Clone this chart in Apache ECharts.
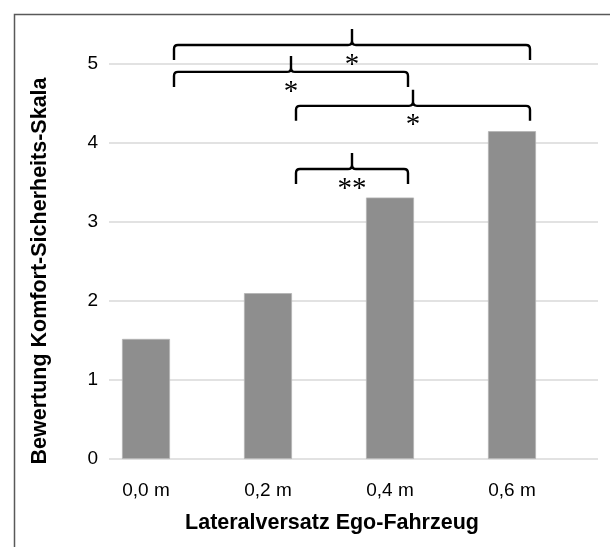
<!DOCTYPE html>
<html>
<head>
<meta charset="utf-8">
<style>
  html, body { margin: 0; padding: 0; background: #ffffff; }
  #chart { width: 610px; height: 547px; }
</style>
<script src="https://cdn.jsdelivr.net/npm/echarts@6/dist/echarts.min.js"></script>
</head>
<body>
<div id="chart"></div>
<script>
// Ratings per lateral offset
const categories = ['0,0 m', '0,2 m', '0,4 m', '0,6 m'];
const ratings = [1.52, 2.10, 3.31, 4.15];
const yTicks = [0, 1, 2, 3, 4, 5];

// Significance brackets: compared categories, bracket height (scale units), marker
const bracketPairs = [[0, 3], [0, 2], [1, 3], [1, 2]];
const bracketLevels = [5.24, 4.90, 4.47, 3.67];
const bracketMarks = ['*', '*', '*', '**'];

const axisFont = 'Liberation Sans, Arial, sans-serif';
const plotTop = 64, plotBottom = 88;

const chart = echarts.init(document.getElementById('chart'), null, { renderer: 'canvas' });

// Curly bracket: hooks at both ends, small peak at the middle
function bracketPath(x1, x2, y) {
  const h = 15, r = 4, t = 16;
  const xm = (x1 + x2) / 2;
  return [
    'M', x1, y + h, 'L', x1, y + r, 'Q', x1, y, x1 + r, y,
    'L', xm - r, y, 'Q', xm, y, xm, y - r, 'L', xm, y - t,
    'M', xm, y - r, 'Q', xm, y, xm + r, y,
    'L', x2 - r, y, 'Q', x2, y, x2, y + r, 'L', x2, y + h
  ].join(' ');
}

const bracketData = bracketPairs.map((p, i) => [p[0], p[1], bracketLevels[i], bracketMarks[i]]);

chart.setOption({
  backgroundColor: '#ffffff',
  animation: false,
  grid: [
    // value grid (gridlines + y labels)
    { left: 109, right: 12, top: plotTop, bottom: plotBottom },
    // bar grid
    { left: 85, width: 488, top: plotTop, bottom: plotBottom }
  ],
  xAxis: [
    { gridIndex: 0, type: 'value', show: false, min: 0, max: 1 },
    {
      gridIndex: 1, type: 'category', data: categories,
      axisLine: { show: false }, axisTick: { show: false },
      axisLabel: { color: '#000000', fontSize: 19, fontFamily: axisFont, margin: 22 }
    }
  ],
  yAxis: [
    {
      gridIndex: 0, type: 'value', min: yTicks[0], max: yTicks[yTicks.length - 1], interval: 1,
      axisLine: { show: false }, axisTick: { show: false },
      axisLabel: { color: '#000000', fontSize: 19, fontFamily: axisFont, margin: 11 },
      splitLine: { lineStyle: { color: '#d9d9d9', width: 1.5 } }
    },
    {
      gridIndex: 1, type: 'value', min: yTicks[0], max: yTicks[yTicks.length - 1],
      show: false, splitLine: { show: false }
    }
  ],
  series: [
    {
      type: 'bar', xAxisIndex: 1, yAxisIndex: 1,
      data: ratings, barWidth: 48,
      itemStyle: { color: '#8e8e8e', borderColor: '#b4b4b4', borderWidth: 0.8 }
    },
    {
      type: 'custom', xAxisIndex: 1, yAxisIndex: 1, clip: false,
      data: bracketData,
      renderItem: function (params, api) {
        const a = api.coord([api.value(0), api.value(2)]);
        const b = api.coord([api.value(1), api.value(2)]);
        const x1 = a[0] + 28, x2 = b[0] + 18, y = a[1];
        const mark = bracketData[params.dataIndex][3];
        return {
          type: 'group',
          children: [
            {
              type: 'path',
              shape: { pathData: bracketPath(x1, x2, y) },
              style: { fill: null, stroke: '#000000', lineWidth: 2.4 }
            },
            {
              type: 'text',
              style: {
                text: mark, x: (x1 + x2) / 2, y: y + 20,
                align: 'center', verticalAlign: 'middle',
                fill: '#000000', fontSize: 29,
                fontFamily: 'Liberation Serif, Times New Roman, serif'
              }
            }
          ]
        };
      }
    }
  ],
  graphic: [
    {
      type: 'rect', left: 12, top: 12, silent: true,
      shape: { width: 700, height: 700 },
      style: { fill: null, stroke: '#595959', lineWidth: 1.5 }
    },
    {
      type: 'text', x: 40, y: 271, rotation: Math.PI / 2,
      style: {
        text: 'Bewertung Komfort-Sicherheits-Skala',
        align: 'center', verticalAlign: 'middle',
        fontSize: 21.5, fontWeight: 'bold', fontFamily: axisFont, fill: '#000000'
      }
    },
    {
      type: 'text', x: 332, y: 523,
      style: {
        text: 'Lateralversatz Ego-Fahrzeug',
        align: 'center', verticalAlign: 'middle',
        fontSize: 21.5, fontWeight: 'bold', fontFamily: axisFont, fill: '#000000'
      }
    }
  ]
});
</script>
</body>
</html>
